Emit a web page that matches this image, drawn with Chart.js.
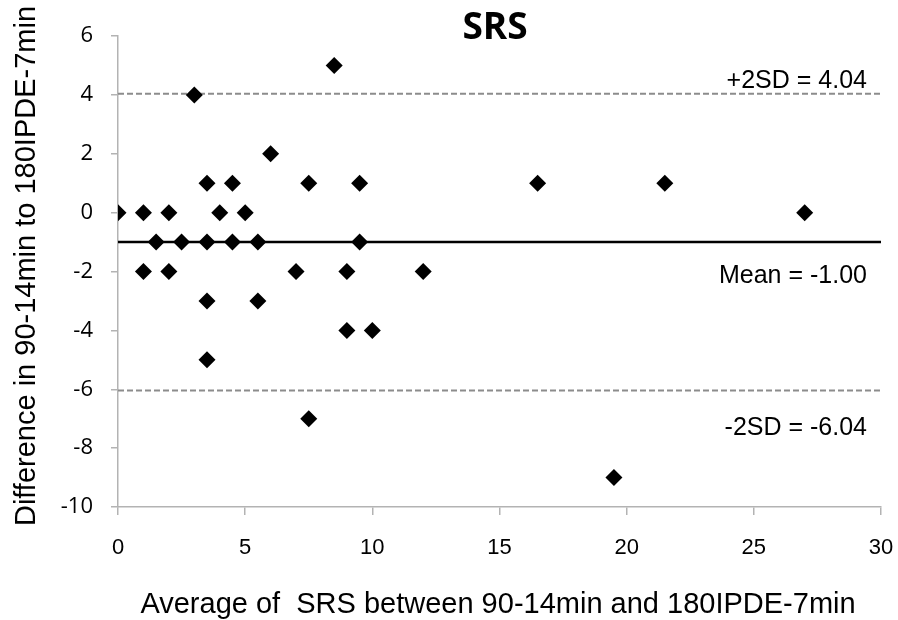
<!DOCTYPE html>
<html>
<head>
<meta charset="utf-8">
<script src="https://cdn.jsdelivr.net/npm/chart.js@4"></script>
<style>
  html, body { margin: 0; padding: 0; background: #fff; }
  #wrap { width: 898px; height: 620px; }
</style>
</head>
<body>
<div id="wrap"><canvas id="chart" width="898" height="620"></canvas></div>
<script>
// Bland-Altman data: average (x) and difference (y)
const avgValues = [0, 1, 1, 1.5, 2, 2, 2.5, 3, 3.5, 3.5, 3.5, 3.5, 4, 4.5, 4.5, 5, 5.5, 5.5, 6, 7, 7.5, 7.5, 8.5, 9, 9, 9.5, 9.5, 10, 12, 16.5, 19.5, 21.5, 27]
const diffValues = [0, 0, -2, -1, 0, -2, -1, 4, 1, -1, -3, -5, 0, 1, -1, 0, -1, -3, 2, -2, 1, -7, 5, -2, -4, 1, -1, -4, -2, 1, -9, 1, 0]

const xRange = [0, 30]
const yRange = [-10, 6]
const xTicks = [0, 5, 10, 15, 20, 25, 30]
const yTicks = [-10, -8, -6, -4, -2, 0, 2, 4, 6]

const meanDiff = -1.00
const upperLimit = 4.04
const lowerLimit = -6.04
const lineLabels = ['+2SD = 4.04', 'Mean = -1.00', '-2SD = -6.04']

const points = avgValues.map((x, i) => ({ x: x, y: diffValues[i] }))
const hLine = (v) => xRange.map((x) => ({ x: x, y: v }))

// texts: title, axis titles, line labels
const textPlugin = {
  id: 'texts',
  afterDraw(chart) {
    const { ctx, chartArea, scales } = chart
    const y = scales.y
    ctx.save()
    ctx.fillStyle = '#000'

    // title
    ctx.font = 'bold 37px "Open Sans"'
    ctx.textAlign = 'center'
    ctx.textBaseline = 'middle'
    ctx.fillText('SRS', 495, 28)

    // line labels, right aligned
    ctx.font = '25px "Liberation Sans"'
    ctx.textAlign = 'right'
    ctx.textBaseline = 'alphabetic'
    const right = chartArea.right - 14
    ctx.fillText(lineLabels[0], right, y.getPixelForValue(upperLimit) - 6)
    ctx.fillText(lineLabels[1], right, y.getPixelForValue(meanDiff) + 41)
    ctx.fillText(lineLabels[2], right, y.getPixelForValue(lowerLimit) + 45)

    // x axis title
    ctx.font = '29px "Liberation Sans"'
    ctx.textAlign = 'center'
    ctx.fillText('Average of  SRS between 90-14min and 180IPDE-7min', 498, 613)

    // y axis title
    ctx.translate(35, 266)
    ctx.rotate(-Math.PI / 2)
    ctx.fillText('Difference in 90-14min to 180IPDE-7min', 0, 0)
    ctx.restore()
  },
}

new Chart(document.getElementById('chart'), {
  type: 'scatter',
  data: {
    datasets: [
      {
        data: points,
        pointStyle: 'rectRot',
        pointRadius: 8.5,
        pointHoverRadius: 8.5,
        backgroundColor: '#000',
        borderColor: '#000',
        borderWidth: 0,
        order: 0,
      },
      {
        type: 'line',
        data: hLine(upperLimit),
        borderColor: '#8c8c8c',
        borderWidth: 2,
        borderDash: [6, 3],
        pointRadius: 0,
        order: 1,
      },
      {
        type: 'line',
        data: hLine(meanDiff),
        borderColor: '#000',
        borderWidth: 2.5,
        pointRadius: 0,
        order: 1,
      },
      {
        type: 'line',
        data: hLine(lowerLimit),
        borderColor: '#8c8c8c',
        borderWidth: 2,
        borderDash: [6, 3],
        pointRadius: 0,
        order: 1,
      },
    ],
  },
  options: {
    responsive: false,
    animation: false,
    layout: { padding: { left: 0, right: 17, top: 36, bottom: 0 } },
    scales: {
      x: {
        type: 'linear',
        min: xRange[0],
        max: xRange[1],
        afterBuildTicks: (axis) => { axis.ticks = xTicks.map((v) => ({ value: v })) },
        afterFit: (axis) => {
          axis.height = 113
          axis.paddingLeft = 0
          axis.paddingRight = 0
        },
        grid: { drawOnChartArea: false, drawTicks: true, tickLength: 8, color: '#b3b3b3', lineWidth: 1.5 },
        border: { color: '#b3b3b3', width: 1.5 },
        ticks: { color: '#000', padding: 20, font: { family: 'Liberation Sans', size: 22 } },
      },
      y: {
        type: 'linear',
        min: yRange[0],
        max: yRange[1],
        afterBuildTicks: (axis) => { axis.ticks = yTicks.map((v) => ({ value: v })) },
        afterFit: (axis) => {
          axis.width = 118
          axis.paddingTop = 0
          axis.paddingBottom = 0
        },
        grid: { drawOnChartArea: false, drawTicks: true, tickLength: 7, color: '#b3b3b3', lineWidth: 1.5 },
        border: { color: '#b3b3b3', width: 1.5 },
        ticks: { color: '#000', padding: 18, font: { family: 'Open Sans', size: 22 } },
      },
    },
    plugins: {
      legend: { display: false },
      tooltip: { enabled: false },
    },
  },
  plugins: [textPlugin],
})
</script>
</body>
</html>
